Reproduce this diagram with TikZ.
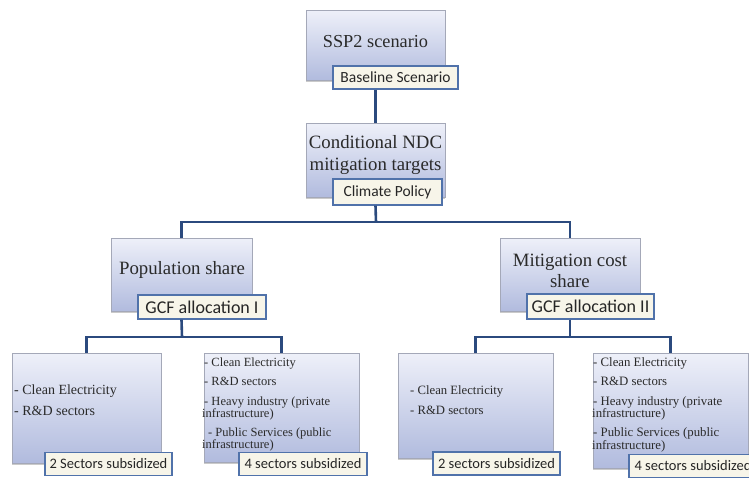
\documentclass[tikz,border=0pt]{standalone}
\usepackage{fontspec}
\setmainfont{Liberation Serif}
\newfontfamily\tagfont{Carlito}
\usetikzlibrary{shadows}

\definecolor{boxtop}{HTML}{EEF0F9}
\definecolor{boxbot}{HTML}{B1BBDE}
\definecolor{boxedge}{HTML}{A4A8B8}
\definecolor{tagfill}{HTML}{F7F5E9}
\definecolor{tagedge}{HTML}{5072AA}
\definecolor{wirecol}{HTML}{2B4A7E}
\definecolor{inktext}{HTML}{2A2A2A}

\newcommand{\fsz}[1]{\fontsize{#1}{#1}\selectfont}

\begin{document}
\begin{tikzpicture}[x=1pt,y=-1pt,
  mainbox/.style={draw=boxedge, line width=0.8pt, top color=boxtop, bottom color=boxbot,
    drop shadow={shadow xshift=0.4pt, shadow yshift=-1.6pt, opacity=0.35, fill=black!60},
    inner sep=0pt},
  tag/.style={draw=tagedge, line width=1.2pt, fill=tagfill, inner sep=0pt, text=black!85},
  wire/.style={draw=wirecol, line width=2.6pt},
  headtext/.style={text=inktext, align=center, inner sep=0pt},
  itemtext/.style={text=inktext, anchor=west, inner sep=0pt, text height=0.7em, text depth=0.2em}]

\useasboundingbox (0,0) rectangle (749,477);
\clip (0,0) rectangle (749,477);

% ---------- main boxes ----------
\node[mainbox, minimum width=139pt, minimum height=70pt]  (ssp) at (375.5,45)   {};
\node[mainbox, minimum width=139pt, minimum height=74pt]  (ndc) at (375.5,160)  {};
\node[mainbox, minimum width=141pt, minimum height=73pt]  (pop) at (181.5,274.5) {};
\node[mainbox, minimum width=140pt, minimum height=73pt]  (mit) at (570,274.5)  {};
\node[mainbox, minimum width=149pt, minimum height=110pt] (b1)  at (86.5,408)   {};
\node[mainbox, minimum width=155pt, minimum height=109pt] (b2)  at (281.5,407.5) {};
\node[mainbox, minimum width=155pt, minimum height=105pt] (b3)  at (475.5,405.5) {};
\node[mainbox, minimum width=155pt, minimum height=115pt] (b4)  at (670.5,410.5) {};

% ---------- box headings ----------
\node[headtext, font=\fsz{18.3}] (sspt) at (375.5,42) {SSP2 scenario};
\node[headtext, font=\fontsize{18.8}{21.5}\selectfont] (ndct) at (375.5,155) {Conditional NDC\\mitigation targets};
\node[headtext, font=\fsz{18.8}] (popt) at (182,270) {Population share};
\node[headtext, font=\fontsize{18.8}{21}\selectfont] (mitt) at (570,271) {Mitigation cost\\share};

% ---------- sector lists ----------
\node[itemtext, font=\fsz{14}] (b1a) at (14,392) {- Clean Electricity};
\node[itemtext, font=\fsz{14}] (b1b) at (14,413) {- R\&D sectors};

\node[itemtext, font=\fsz{12.5}] (b2a) at (204,364) {- Clean Electricity};
\node[itemtext, font=\fsz{12.5}] (b2b) at (204,383) {- R\&D sectors};
\node[itemtext, font=\fsz{12.5}] (b2c) at (204,403) {- Heavy industry (private};
\node[itemtext, font=\fsz{12.5}] (b2d) at (202,414.5) {infrastructure)};
\node[itemtext, font=\fsz{12.5}] (b2e) at (208,434) {- Public Services (public};
\node[itemtext, font=\fsz{12.5}] (b2f) at (202,446) {infrastructure)};

\node[itemtext, font=\fsz{12.7}] (b3a) at (410,392) {- Clean Electricity};
\node[itemtext, font=\fsz{12.7}] (b3b) at (410,412) {- R\&D sectors};

\node[itemtext, font=\fsz{12.8}] (b4a) at (593,364) {- Clean Electricity};
\node[itemtext, font=\fsz{12.8}] (b4b) at (593,383) {- R\&D sectors};
\node[itemtext, font=\fsz{12.8}] (b4c) at (593,403) {- Heavy industry (private};
\node[itemtext, font=\fsz{12.8}] (b4d) at (592,415) {infrastructure)};
\node[itemtext, font=\fsz{12.8}] (b4e) at (593,434) {- Public Services (public};
\node[itemtext, font=\fsz{12.8}] (b4f) at (592,447) {infrastructure)};

% ---------- tags ----------
\node[tag, minimum width=125pt, minimum height=23pt, font=\tagfont\fsz{15.5}] (base) at (395.5,77.5) {Baseline Scenario};
\node[tag, minimum width=109pt, minimum height=26pt, font=\tagfont\fsz{15.5}] (clim) at (387.5,192) {Climate Policy};
\node[tag, minimum width=128pt, minimum height=24pt, font=\tagfont\fsz{18}] (gcfa) at (202,307) {GCF allocation I};
\node[tag, minimum width=127pt, minimum height=25pt, font=\tagfont\fsz{18}] (gcfb) at (590.5,306.5) {GCF allocation II};
\node[tag, minimum width=127pt, minimum height=23pt, font=\tagfont\fsz{14.5}] (s1) at (108.5,464) {2 Sectors subsidized};
\node[tag, minimum width=128pt, minimum height=23pt, font=\tagfont\fsz{14.5}] (s2) at (303,464) {4 sectors subsidized};
\node[tag, minimum width=127pt, minimum height=23pt, font=\tagfont\fsz{14.5}] (s3) at (496.5,463.5) {2 sectors subsidized};
\node[tag, minimum width=128pt, minimum height=23pt, font=\tagfont\fsz{14.5}] (s4) at (693,466) {4 sectors subsidized};

% ---------- connectors ----------
\coordinate (busA) at (376,222);
\coordinate (busB) at (182,337);
\coordinate (busC) at (570,337);

\draw[wire] (ssp.center |- base.south) -- (ssp.center |- ndc.north);
\draw[wire] (ndc.center |- clim.south) -- (busA);
\draw[wire] (busA) -| (pop.north);
\draw[wire] (busA) -| (mit.north);
\draw[wire] (pop.center |- gcfa.south) -- (busB);
\draw[wire] (busB) -| (b1.north);
\draw[wire] (busB) -| (b2.north);
\draw[wire] (mit.center |- gcfb.south) -- (busC);
\draw[wire] (busC) -| (b3.north);
\draw[wire] (busC) -| (b4.north);

\end{tikzpicture}
\end{document}
